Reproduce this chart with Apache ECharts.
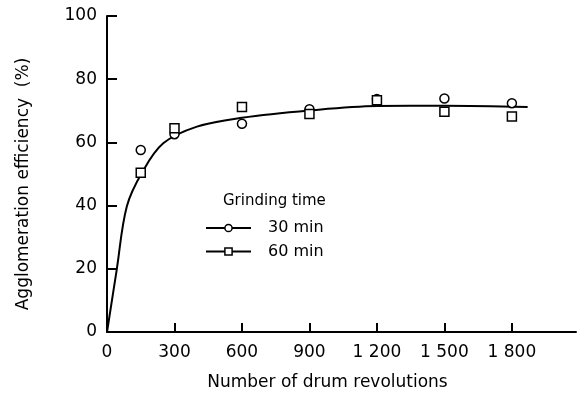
<!DOCTYPE html>
<html>
<head>
<meta charset="utf-8">
<script src="https://cdn.jsdelivr.net/npm/echarts@6/dist/echarts.min.js"></script>
<style>html,body{margin:0;padding:0;background:#fff}#c{width:584px;height:400px}</style>
</head>
<body>
<div id="c"></div>
<script>
// Data
var revolutions = [150, 300, 600, 900, 1200, 1500, 1800];
var eff30 = [57.6, 62.6, 65.9, 70.5, 73.7, 73.9, 72.4];
var eff60 = [50.4, 64.5, 71.2, 69.0, 73.3, 69.7, 68.2];
var curveX = [0, 43, 88, 157, 250, 400, 600, 900, 1200, 1500, 1870];
var curveY = [0, 19.6, 39.7, 50.6, 59.7, 65.0, 67.8, 70.1, 71.5, 71.6, 71.2];
var xTicks = [0, 300, 600, 900, 1200, 1500, 1800];
var xTickLabels = ['0', '300', '600', '900', '1 200', '1 500', '1 800'];
var yTicks = [0, 20, 40, 60, 80, 100];
var seriesNames = ['30 min', '60 min'];
var legendTitle = 'Grinding time';
var xTitle = 'Number of drum revolutions';
var yTitle = 'Agglomeration efficiency  (%)';

function pairs(xs, ys) { return xs.map(function (x, i) { return [x, ys[i]]; }); }

var font = 'DejaVu Sans';
var chart = echarts.init(document.getElementById('c'), null, { renderer: 'canvas' });
chart.setOption({
  animation: false,
  backgroundColor: '#fff',
  textStyle: { fontFamily: font, color: '#000' },
  grid: { left: 107, right: 8, top: 16, bottom: 68, containLabel: false },
  title: {
    text: legendTitle, left: 218, top: 189,
    textStyle: { fontFamily: font, fontSize: 15, fontWeight: 'normal', color: '#000' }
  },
  legend: {
    data: seriesNames, orient: 'vertical', left: 200, top: 215,
    itemWidth: 45, itemHeight: 9, itemGap: 7.5,
    textStyle: { fontFamily: font, fontSize: 16, color: '#000', padding: [0, 0, 0, 12] },
    lineStyle: { color: '#000', width: 2, opacity: 1 },
    itemStyle: { color: '#fff', borderColor: '#000', borderWidth: 1.5 }
  },
  xAxis: {
    type: 'value', min: 0, max: 2085,
    name: xTitle, nameLocation: 'middle', nameGap: 42,
    nameTextStyle: { fontFamily: font, fontSize: 17, color: '#000', padding: [0, 28, 0, 0] },
    axisLine: { lineStyle: { color: '#000', width: 2 } },
    axisTick: { inside: true, length: 9, customValues: xTicks.slice(1), lineStyle: { color: '#000', width: 2 } },
    axisLabel: {
      customValues: xTicks, margin: 12, fontFamily: font, fontSize: 17, color: '#000',
      formatter: function (v) { var i = xTicks.indexOf(v); return i >= 0 ? xTickLabels[i] : ''; }
    },
    splitLine: { show: false }
  },
  yAxis: {
    type: 'value', min: 0, max: 100, interval: 20,
    name: yTitle, nameLocation: 'middle', nameGap: 75, nameRotate: 90,
    nameTextStyle: { fontFamily: font, fontSize: 17, color: '#000', padding: [0, 20, 0, 0] },
    axisLine: { lineStyle: { color: '#000', width: 2 } },
    axisTick: { inside: true, length: 10, customValues: yTicks.slice(1), lineStyle: { color: '#000', width: 2 } },
    axisLabel: { customValues: yTicks, margin: 10, fontFamily: font, fontSize: 17, color: '#000' },
    splitLine: { show: false }
  },
  series: [
    {
      name: 'fit', type: 'line', data: pairs(curveX, curveY), showSymbol: false, symbol: 'none',
      smooth: 0.35,
      lineStyle: { color: '#000', width: 2 }, z: 1
    },
    {
      name: seriesNames[0], type: 'line', data: pairs(revolutions, eff30),
      symbol: 'circle', symbolSize: 9, showSymbol: true,
      lineStyle: { opacity: 0, width: 0 },
      itemStyle: { color: '#fff', borderColor: '#000', borderWidth: 1.5 }, z: 3
    },
    {
      name: seriesNames[1], type: 'line', data: pairs(revolutions, eff60),
      symbol: 'rect', symbolSize: 9, showSymbol: true,
      lineStyle: { opacity: 0, width: 0 },
      itemStyle: { color: '#fff', borderColor: '#000', borderWidth: 1.5 }, z: 3
    }
  ]
});
</script>
</body>
</html>
